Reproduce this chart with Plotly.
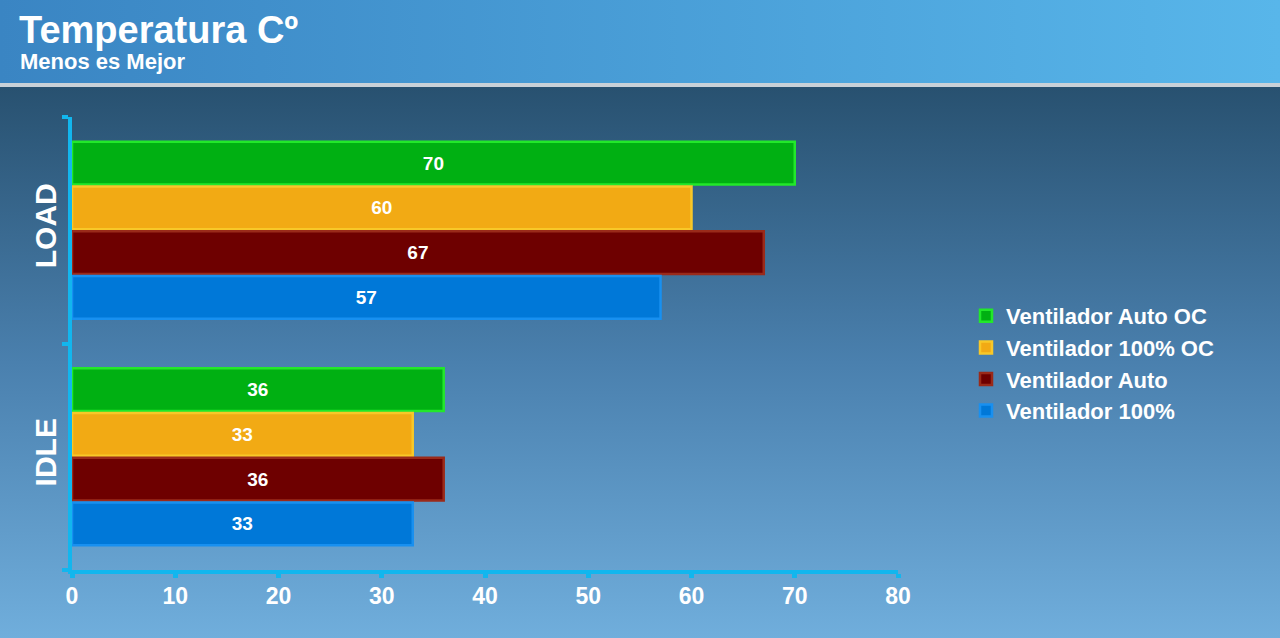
import base64
import plotly.graph_objects as go

categories = ["LOAD", "IDLE"]
series_names = ["Ventilador Auto OC", "Ventilador 100% OC", "Ventilador Auto", "Ventilador 100%"]
auto_oc = [70, 36]
full_oc = [60, 33]
auto = [67, 36]
full = [57, 33]
x_ticks = [0, 10, 20, 30, 40, 50, 60, 70, 80]

series_values = [auto_oc, full_oc, auto, full]
fill_colors = ["#00b012", "#f2aa14", "#6e0000", "#0078d8"]
line_colors = ["#22e82a", "#f8c828", "#9a2a1a", "#1890f0"]

W, H = 1280, 638
L, R, T, B = 72, 382, 117, 68

svg = f'''<svg xmlns="http://www.w3.org/2000/svg" width="{W}" height="{H}" viewBox="0 0 {W} {H}" preserveAspectRatio="none">
<defs>
<linearGradient id="hd" x1="0" y1="0" x2="1" y2="0">
<stop offset="0" stop-color="#3a85c3"/><stop offset="1" stop-color="#58b6ea"/></linearGradient>
<linearGradient id="bd" x1="0" y1="0" x2="0" y2="1">
<stop offset="0" stop-color="#285170"/><stop offset="0.5" stop-color="#4a80ae"/><stop offset="1" stop-color="#70aedc"/></linearGradient>
</defs>
<rect x="0" y="0" width="{W}" height="84" fill="url(#hd)"/>
<rect x="0" y="83" width="{W}" height="4" fill="#c9d1d8"/>
<rect x="0" y="87" width="{W}" height="{H-87}" fill="url(#bd)"/>
</svg>'''
src = "data:image/svg+xml;base64," + base64.b64encode(svg.encode()).decode()

pw, ph = W - L - R, H - T - B
def px(x):
    return (x - L) / pw
def py(y):
    return (H - B - y) / ph

fig = go.Figure()
for name, vals, fc, lc in zip(series_names, series_values, fill_colors, line_colors):
    fig.add_trace(go.Bar(
        y=categories, x=vals, name=f"<b>{name}</b>", orientation="h",
        marker=dict(color=fc, line=dict(color=lc, width=2.5)),
        text=[str(v) for v in vals], textposition="inside", insidetextanchor="middle",
        textfont=dict(family="Liberation Sans", size=19, color="white"),
        texttemplate="<b>%{x}</b>", cliponaxis=False,
    ))

fig.add_layout_image(dict(
    source=src, xref="paper", yref="paper",
    x=px(0), y=py(0), sizex=W / pw, sizey=H / ph,
    xanchor="left", yanchor="top", sizing="stretch", layer="below",
))

fig.add_annotation(text="<b>Temperatura Cº</b>", xref="paper", yref="paper",
                   x=px(17), y=py(30), xanchor="left", yanchor="middle", showarrow=False,
                   font=dict(family="Liberation Sans", size=38, color="white"))
fig.add_annotation(text="<b>Menos es Mejor</b>", xref="paper", yref="paper",
                   x=px(18), y=py(61), xanchor="left", yanchor="middle", showarrow=False,
                   font=dict(family="Liberation Sans", size=22, color="white"))

fig.update_layout(
    width=W, height=H,
    margin=dict(l=L, r=R, t=T, b=B, autoexpand=False),
    paper_bgcolor="#4a80ae", plot_bgcolor="rgba(0,0,0,0)",
    barmode="group", bargap=0.21, bargroupgap=0.04,
    font=dict(family="Liberation Sans", color="white"),
    showlegend=True,
    legend=dict(x=px(966), y=py(295), xanchor="left", yanchor="top",
                bgcolor="rgba(0,0,0,0)", traceorder="normal",
                font=dict(family="Liberation Sans", size=22, color="white"),
                itemwidth=30, tracegroupgap=0),
    xaxis=dict(range=[0, 80], tickvals=x_ticks, ticktext=[f"<b>{t}</b>" for t in x_ticks],
               showgrid=False, zeroline=False, showline=True, linecolor="#12b6ee", linewidth=4,
               ticks="outside", ticklen=4, tickwidth=5, tickcolor="#12b6ee",
               ticklabelstandoff=-2,
               tickfont=dict(family="Liberation Sans", size=23, color="white"),
               fixedrange=True),
    yaxis=dict(categoryorder="array", categoryarray=categories, autorange="reversed",
               tickvals=categories, ticktext=[f"<b>{c}</b>" for c in categories],
               showgrid=False, zeroline=False, showline=True, linecolor="#12b6ee", linewidth=4,
               ticks="outside", tickson="boundaries", ticklen=6, tickwidth=4, tickcolor="#12b6ee",
               tickangle=-90, tickfont=dict(family="Liberation Sans", size=30, color="white"),
               fixedrange=True),
)

fig.write_html("out.html", config={"displayModeBar": False},
               post_script="document.body.style.margin='0';document.body.style.overflow='hidden';")
